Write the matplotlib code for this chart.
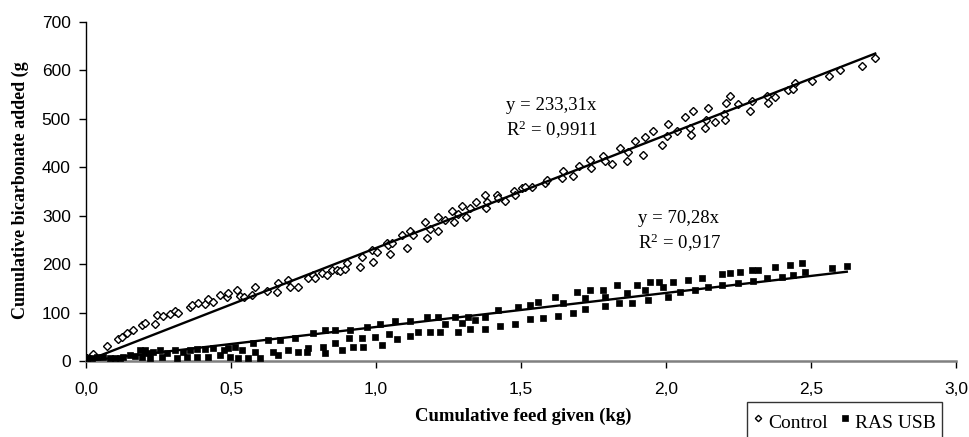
from matplotlib import pyplot as plt
import numpy as np

#################################
# Data
control_x = [0.002, 0.025, 0.071, 0.111, 0.123, 0.140, 0.163, 0.192, 0.203, 0.238,
             0.244, 0.267, 0.290, 0.307, 0.318, 0.359, 0.364, 0.387, 0.410, 0.422,
             0.439, 0.462, 0.485, 0.491, 0.520, 0.531, 0.543, 0.571, 0.583, 0.623,
             0.658, 0.663, 0.698, 0.703, 0.732, 0.767, 0.784, 0.790, 0.813, 0.830,
             0.847, 0.864, 0.876, 0.893, 0.899, 0.945, 0.951, 0.985, 0.991, 1.002,
             1.037, 1.042, 1.048, 1.054, 1.089, 1.106, 1.117, 1.129, 1.169, 1.175,
             1.186, 1.215, 1.213, 1.238, 1.261, 1.267, 1.284, 1.295, 1.310, 1.324,
             1.345, 1.376, 1.378, 1.382, 1.416, 1.422, 1.445, 1.474, 1.479, 1.502,
             1.514, 1.537, 1.583, 1.589, 1.640, 1.646, 1.680, 1.698, 1.738, 1.740,
             1.784, 1.790, 1.813, 1.841, 1.864, 1.868, 1.893, 1.922, 1.928, 1.955,
             1.985, 2.002, 2.008, 2.037, 2.066, 2.083, 2.085, 2.094, 2.134, 2.136,
             2.146, 2.169, 2.198, 2.203, 2.205, 2.221, 2.249, 2.290, 2.295, 2.347,
             2.350, 2.376, 2.422, 2.439, 2.445, 2.502, 2.560, 2.600, 2.675, 2.721]
control_y = [6, 14, 31, 45, 49, 57, 64, 74, 79, 76,
             95, 92, 98, 103, 100, 112, 116, 120, 118, 127,
             122, 136, 133, 141, 147, 134, 133, 136, 153, 145,
             143, 162, 167, 153, 153, 171, 178, 171, 182, 178,
             188, 188, 186, 191, 203, 195, 214, 229, 204, 226,
             244, 240, 221, 244, 260, 234, 268, 260, 286, 255,
             273, 297, 268, 291, 310, 286, 304, 320, 298, 315,
             329, 343, 315, 329, 343, 336, 331, 350, 343, 357,
             359, 360, 368, 374, 377, 393, 382, 403, 415, 398,
             423, 412, 407, 439, 412, 432, 455, 425, 462, 474,
             446, 465, 489, 474, 504, 482, 467, 516, 482, 497,
             523, 494, 510, 498, 533, 547, 531, 516, 537, 547,
             533, 545, 559, 561, 575, 579, 589, 600, 610, 625]

ras_x = [0.002, 0.020, 0.037, 0.060, 0.083, 0.100, 0.117, 0.129, 0.152, 0.169,
         0.186, 0.192, 0.203, 0.215, 0.221, 0.232, 0.255, 0.261, 0.278, 0.307,
         0.313, 0.336, 0.347, 0.359, 0.382, 0.382, 0.410, 0.422, 0.439, 0.462,
         0.474, 0.491, 0.497, 0.514, 0.525, 0.537, 0.560, 0.577, 0.583, 0.600,
         0.629, 0.646, 0.663, 0.669, 0.698, 0.721, 0.732, 0.761, 0.767, 0.784,
         0.818, 0.824, 0.824, 0.859, 0.859, 0.882, 0.905, 0.910, 0.922, 0.951,
         0.956, 0.968, 0.997, 1.014, 1.020, 1.043, 1.066, 1.071, 1.117, 1.117,
         1.146, 1.175, 1.186, 1.215, 1.221, 1.238, 1.272, 1.284, 1.295, 1.318,
         1.324, 1.341, 1.376, 1.376, 1.422, 1.428, 1.479, 1.491, 1.531, 1.531,
         1.560, 1.577, 1.617, 1.629, 1.646, 1.680, 1.692, 1.721, 1.721, 1.738,
         1.784, 1.790, 1.790, 1.830, 1.836, 1.864, 1.882, 1.899, 1.928, 1.939,
         1.945, 1.974, 1.991, 2.008, 2.025, 2.048, 2.077, 2.100, 2.123, 2.146,
         2.192, 2.192, 2.221, 2.249, 2.255, 2.295, 2.301, 2.318, 2.347, 2.376,
         2.399, 2.428, 2.439, 2.468, 2.479, 2.571, 2.623]
ras_y = [5.5, 5.5, 7.6, 7.6, 5.5, 5.5, 5.5, 7.6, 12.4, 10.3,
         22.7, 7.6, 22.7, 15.8, 5.5, 19.3, 22.7, 8.9, 17.2, 22.7,
         5.5, 19.3, 8.9, 22.7, 24.1, 8.9, 24.1, 7.6, 26.2, 12.4,
         22.7, 26.2, 8.9, 29.6, 5.5, 22.7, 5.5, 36.5, 19.3, 5.5,
         43.4, 19.3, 12.4, 43.4, 22.7, 46.8, 19.3, 19.3, 26.2, 58.5,
         29.6, 17.2, 64.0, 37.9, 64.0, 22.7, 46.8, 64.0, 29.6, 46.8,
         29.6, 70.9, 50.2, 76.4, 33.0, 55.8, 83.3, 44.7, 83.3, 51.6,
         60.6, 91.5, 60.6, 91.5, 60.6, 76.4, 91.5, 60.6, 79.2, 91.5,
         65.4, 84.7, 91.5, 65.4, 105.3, 72.3, 76.4, 112.2, 115.6, 86.0,
         122.5, 88.1, 132.8, 92.9, 119.1, 98.4, 143.2, 129.4, 106.7, 146.6,
         146.6, 132.8, 113.6, 156.9, 119.1, 141.1, 119.1, 156.9, 146.6, 126.0,
         163.8, 163.8, 153.5, 131.5, 163.8, 143.2, 167.3, 146.6, 170.7, 152.1,
         179.6, 156.9, 182.4, 160.4, 184.5, 187.9, 165.9, 187.9, 170.7, 193.4,
         174.1, 198.2, 177.6, 203.0, 184.5, 191.3, 196.2]

# trend line slopes (through origin) and labels
control_slope = 233.31
ras_slope = 70.28
control_eq = ['y = 233,31x', 'R$^2$ = 0,9911']
ras_eq = ['y = 70,28x', 'R$^2$ = 0,917']

x_ticks = [0.0, 0.5, 1.0, 1.5, 2.0, 2.5, 3.0]
x_ticklabels = ['0,0', '0,5', '1,0', '1,5', '2,0', '2,5', '3,0']
y_ticks = [0, 100, 200, 300, 400, 500, 600, 700]
#################################


#################################
# Make figure
serif = 'Liberation Serif'
sans = 'Liberation Sans'
plt.rcParams['mathtext.fontset'] = 'custom'
plt.rcParams['mathtext.rm'] = serif
plt.rcParams['mathtext.it'] = serif + ':italic'

fig = plt.figure(figsize=[9.7, 4.37], dpi=100)
ax = fig.add_axes([0.0887, 0.1739, 0.897, 0.7758])

ax.plot(control_x, control_y, ls='none', marker='D', ms=4, mfc='white',
        mec='black', mew=1, label='Control', zorder=3)
ax.plot(ras_x, ras_y, ls='none', marker='s', ms=4.6, mfc='black',
        mec='black', mew=0.5, label='RAS USB', zorder=3)

# linear trend lines
xc = np.array([0, max(control_x)])
xr = np.array([0, max(ras_x)])
ax.plot(xc, control_slope*xc, 'k', lw=1.7, zorder=4)
ax.plot(xr, ras_slope*xr, 'k', lw=1.7, zorder=4)

eq_fs = 13.5
ax.text(1.447, 528, control_eq[0], family=serif, fontsize=eq_fs, ha='left', va='center')
ax.text(1.447, 477, control_eq[1], family=serif, fontsize=eq_fs, ha='left', va='center')
ax.text(1.903, 294, ras_eq[0], family=serif, fontsize=eq_fs, ha='left', va='center')
ax.text(1.903, 244, ras_eq[1], family=serif, fontsize=eq_fs, ha='left', va='center')

ax.set_xlim(0, 3)
ax.set_ylim(0, 700)
ax.set_xticks(x_ticks)
ax.set_xticklabels(x_ticklabels)
ax.set_yticks(y_ticks)
for lb in ax.get_xticklabels() + ax.get_yticklabels():
    lb.set_family(sans)
    lb.set_fontsize(12.5)
ax.tick_params(axis='x', direction='out', length=5, width=1, pad=10, colors='black')
ax.tick_params(axis='y', direction='out', length=5, width=1, pad=6)

ax.spines['top'].set_visible(False)
ax.spines['right'].set_visible(False)
ax.spines['bottom'].set_color('#808080')
ax.spines['bottom'].set_linewidth(1.8)
ax.spines['left'].set_linewidth(1)

fig.text(523/970., 1 - 416/437., 'Cumulative feed given (kg)', family=serif,
         fontweight='bold', fontsize=13.5, ha='center', va='center')
fig.text(20/970., 1 - 190/437., 'Cumulative bicarbonate added (g', family=serif,
         fontweight='bold', fontsize=13, rotation=90, ha='center', va='center')

leg = fig.legend(loc='upper left', bbox_to_anchor=(747/970., 1 - 402/437.), ncol=2,
                 prop={'family': serif, 'size': 14}, frameon=True, fancybox=False,
                 markerscale=0.8, handlelength=0.5, handleheight=1.9,
                 handletextpad=0.3, columnspacing=0.6, borderpad=0.3,
                 borderaxespad=0)
leg.get_frame().set_edgecolor('black')
leg.get_frame().set_linewidth(1)

plt.savefig('out.png', dpi=100)
#################################
